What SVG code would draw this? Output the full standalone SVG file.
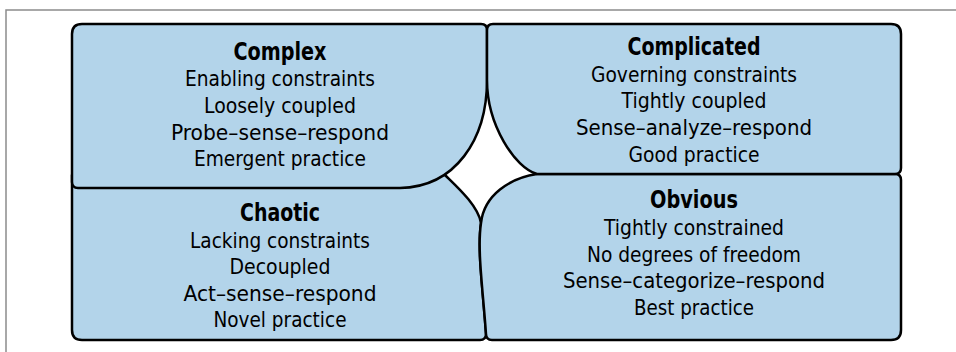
<svg xmlns="http://www.w3.org/2000/svg" width="956" height="352" viewBox="0 0 956 352">
<style>
.box{fill:#b3d4ea;stroke:#000;stroke-width:2.5;stroke-linejoin:round}
.t{font-family:"Liberation Sans Narrow","DejaVu Sans Condensed","Liberation Sans",sans-serif;font-stretch:condensed;font-size:22px;fill:#000;text-anchor:middle}
.h{font-weight:bold;font-size:25px}
.frame{stroke:#8c8c8c;stroke-width:1.5;fill:none}
</style>
<rect width="956" height="352" fill="#fff"/>
<path class="frame" d="M6,352 V10 H956"/>
<g id="connectors"></g>
<g id="chaotic">
<path class="box" d="M72,175 V330 Q72,340 82,340 H480 Q486,340 486,334 C483,290 477,250 481,223 C478,205 455,185 445,175 Z"/>
<text class="t h" x="280" y="221" textLength="80" lengthAdjust="spacingAndGlyphs">Chaotic</text>
<text class="t" x="280" y="248" textLength="180" lengthAdjust="spacingAndGlyphs">Lacking constraints</text>
<text class="t" x="280" y="274" textLength="101" lengthAdjust="spacingAndGlyphs">Decoupled</text>
<text class="t" x="280" y="301" textLength="193" lengthAdjust="spacingAndGlyphs">Act–sense–respond</text>
<text class="t" x="280" y="327" textLength="133" lengthAdjust="spacingAndGlyphs">Novel practice</text>
</g>
<g id="obvious">
<path class="box" d="M537,174 H895 Q901,174 901,180 V330 Q901,340 891,340 H492 Q486,340 486,334 C483,290 477,250 481,223 C484,195 510,178 537,174 Z"/>
<text class="t h" x="694" y="208" textLength="88" lengthAdjust="spacingAndGlyphs">Obvious</text>
<text class="t" x="694" y="235" textLength="180" lengthAdjust="spacingAndGlyphs">Tightly constrained</text>
<text class="t" x="694" y="262" textLength="214" lengthAdjust="spacingAndGlyphs">No degrees of freedom</text>
<text class="t" x="694" y="288" textLength="262" lengthAdjust="spacingAndGlyphs">Sense–categorize–respond</text>
<text class="t" x="694" y="315" textLength="120" lengthAdjust="spacingAndGlyphs">Best practice</text>
</g>
<g id="complex">
<path class="box" d="M72,34 Q72,24 82,24 H481 Q487,24 487,30 V80 C487,140 455,187 400,188 H78 Q72,188 72,182 Z"/>
<text class="t h" x="280" y="60" textLength="93" lengthAdjust="spacingAndGlyphs">Complex</text>
<text class="t" x="280" y="86" textLength="190" lengthAdjust="spacingAndGlyphs">Enabling constraints</text>
<text class="t" x="280" y="113" textLength="152" lengthAdjust="spacingAndGlyphs">Loosely coupled</text>
<text class="t" x="280" y="140" textLength="218" lengthAdjust="spacingAndGlyphs">Probe–sense–respond</text>
<text class="t" x="280" y="166" textLength="172" lengthAdjust="spacingAndGlyphs">Emergent practice</text>
</g>
<g id="complicated">
<path class="box" d="M493,24 H891 Q901,24 901,34 V168 Q901,174 895,174 H537 C515,168 487,125 487,80 V30 Q487,24 493,24 Z"/>
<text class="t h" x="694" y="55" textLength="133" lengthAdjust="spacingAndGlyphs">Complicated</text>
<text class="t" x="694" y="82" textLength="206" lengthAdjust="spacingAndGlyphs">Governing constraints</text>
<text class="t" x="694" y="108" textLength="145" lengthAdjust="spacingAndGlyphs">Tightly coupled</text>
<text class="t" x="694" y="135" textLength="236" lengthAdjust="spacingAndGlyphs">Sense–analyze–respond</text>
<text class="t" x="694" y="162" textLength="131" lengthAdjust="spacingAndGlyphs">Good practice</text>
</g>
</svg>
